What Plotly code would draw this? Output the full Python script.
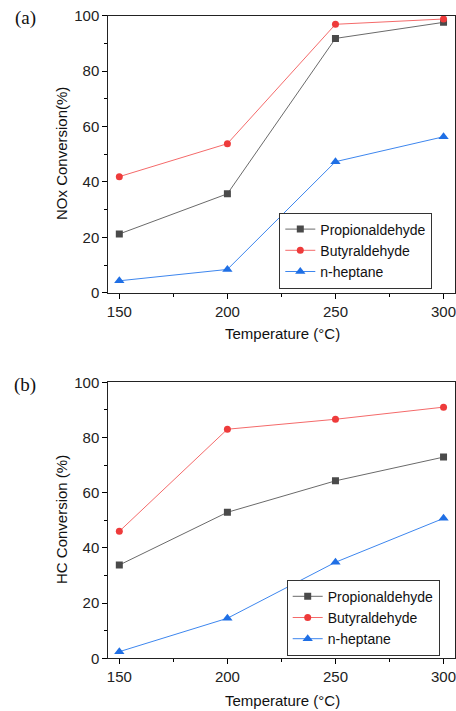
import plotly.graph_objects as go

temps = [150, 200, 250, 300]
nox_prop = [21.2, 35.7, 91.8, 97.6]
nox_buty = [41.9, 53.8, 96.9, 98.8]
nox_hept = [4.3, 8.4, 47.3, 56.3]
hc_prop = [33.8, 52.9, 64.3, 72.9]
hc_buty = [46.0, 83.0, 86.6, 91.0]
hc_hept = [2.4, 14.5, 34.8, 50.7]
series_names = ["Propionaldehyde", "Butyraldehyde", "n-heptane"]

W, H = 456, 711
FONT = "Liberation Sans, Arial, sans-serif"

def px(x):
    return x / W

def py(y):
    return (H - y) / H

styles = [
    dict(line=dict(color="#6a6a6a", width=1), marker=dict(symbol="square", size=7, color="#4a4a4a")),
    dict(line=dict(color="#f46a6a", width=1), marker=dict(symbol="circle", size=7, color="#ee3b3b")),
    dict(line=dict(color="#3d86ee", width=1), marker=dict(symbol="triangle-up", size=9, color="#1f6fe5")),
]

fig = go.Figure()
for vals, name, st in zip([nox_prop, nox_buty, nox_hept], series_names, styles):
    fig.add_trace(go.Scatter(x=temps, y=vals, name=name, mode="lines+markers",
                             xaxis="x", yaxis="y", legend="legend", **st))
for vals, name, st in zip([hc_prop, hc_buty, hc_hept], series_names, styles):
    fig.add_trace(go.Scatter(x=temps, y=vals, name=name, mode="lines+markers",
                             xaxis="x2", yaxis="y2", legend="legend2", **st))

xdom = [px(108.3), px(455.0)]
ydom_top = [py(292.7), py(15.7)]
ydom_bot = [py(658.3), py(382.3)]
xr = [144.9, 305.3]
yr = [0, 100]

tickfont = dict(family=FONT, size=15, color="#222")

def xax(anchor):
    return dict(domain=xdom, anchor=anchor, range=xr, tick0=150, dtick=50, ticks="outside",
                ticklen=5, tickcolor="#000", showline=True, linecolor="#222", linewidth=1,
                mirror=True,
                showgrid=False, zeroline=False, tickfont=tickfont, automargin=False,
                ticklabeloverflow="allow",
                minor=dict(dtick=25, tick0=150, ticks="outside", ticklen=3, tickcolor="#000", showgrid=False))

def yax(anchor, dom):
    return dict(domain=dom, anchor=anchor, range=yr, tick0=0, dtick=20, ticks="outside",
                ticklen=5, tickcolor="#000", showline=True, linecolor="#222", linewidth=1,
                mirror=True,
                showgrid=False, zeroline=False, tickfont=tickfont, automargin=False,
                ticklabeloverflow="allow",
                minor=dict(dtick=10, tick0=0, ticks="outside", ticklen=3, tickcolor="#000", showgrid=False))

legfont = dict(family=FONT, size=14, color="#111")

fig.update_layout(
    width=W, height=H,
    margin=dict(l=0, r=0, t=0, b=0, autoexpand=False),
    paper_bgcolor="white", plot_bgcolor="white",
    font=dict(family=FONT, size=15, color="#111"),
    xaxis=xax("y"),
    yaxis=yax("x", ydom_top),
    xaxis2=xax("y2"),
    yaxis2=yax("x2", ydom_bot),
    legend=dict(x=px(279.3), y=py(288.5), xanchor="left", yanchor="bottom",
                bgcolor="white", bordercolor="#333", borderwidth=1, font=legfont,
                entrywidth=115, entrywidthmode="pixels"),
    legend2=dict(x=px(286.7), y=py(655.7), xanchor="left", yanchor="bottom",
                 bgcolor="white", bordercolor="#333", borderwidth=1, font=legfont,
                 entrywidth=115, entrywidthmode="pixels"),
    showlegend=True,
)

ann = [
    dict(text="Temperature (°C)", x=px(282), y=py(333), textangle=0),
    dict(text="Temperature (°C)", x=px(282), y=py(700), textangle=0),
    dict(text="NOx Conversion(%)", x=px(61), y=py(154), textangle=-90),
    dict(text="HC Conversion (%)", x=px(61), y=py(520), textangle=-90),
]
for a in ann:
    fig.add_annotation(xref="paper", yref="paper", xanchor="center", yanchor="middle",
                       showarrow=False, font=dict(family=FONT, size=15, color="#111"), **a)

for lab, yy in [("(a)", 18), ("(b)", 385)]:
    fig.add_annotation(text=lab, xref="paper", yref="paper", x=px(25), y=py(yy),
                       xanchor="center", yanchor="middle", showarrow=False,
                       font=dict(family="Liberation Serif, Times New Roman, serif", size=19, color="#111"))

fig.write_html("out.html", config={"displayModeBar": False},
               post_script="document.body.style.margin='0';document.body.style.overflow='hidden';")
